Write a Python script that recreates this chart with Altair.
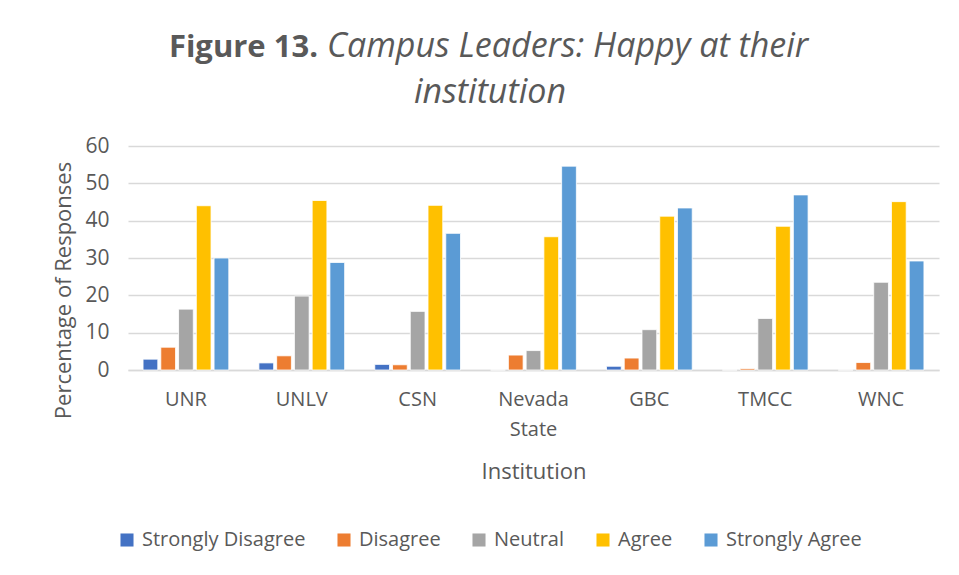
import altair as alt
import pandas as pd

institutions = ["UNR", "UNLV", "CSN", "Nevada State", "GBC", "TMCC", "WNC"]
responses = ["Strongly Disagree", "Disagree", "Neutral", "Agree", "Strongly Agree"]
strongly_disagree = [2.9, 1.9, 1.5, 0.0, 1.0, 0.0, 0.0]
disagree = [6.1, 3.8, 1.4, 4.0, 3.2, 0.4, 2.0]
neutral = [16.3, 19.8, 15.7, 5.2, 10.8, 13.8, 23.5]
agree = [44.0, 45.4, 44.1, 35.7, 41.2, 38.5, 45.1]
strongly_agree = [30.0, 28.8, 36.6, 54.6, 43.4, 46.9, 29.2]
colors = ["#4472C4", "#ED7D31", "#A5A5A5", "#FFC000", "#5B9BD5"]

series = [strongly_disagree, disagree, neutral, agree, strongly_agree]
rows = []
for resp, vals in zip(responses, series):
    for inst, v in zip(institutions, vals):
        rows.append({"Institution": inst, "Response": resp, "Value": v})
df = pd.DataFrame(rows)

FONT = "Open Sans"
GREY = "#595959"

bars = alt.Chart(df).mark_bar(stroke="white", strokeWidth=0.8).encode(
    x=alt.X(
        "Institution:N",
        sort=institutions,
        scale=alt.Scale(paddingInner=0.26, paddingOuter=0.13),
        axis=alt.Axis(
            title="Institution",
            labelAngle=0,
            labelExpr="split(datum.label, ' ')",
            labelLineHeight=30,
            labelPadding=19,
            labelFontSize=20,
            labelColor=GREY,
            labelFont=FONT,
            ticks=False,
            domainColor="#D9D9D9",
            domainWidth=1.5,
            titleFontSize=22,
            titleFontWeight="normal",
            titleColor=GREY,
            titleFont=FONT,
            titlePadding=22,
        ),
    ),
    xOffset=alt.XOffset("Response:N", sort=responses, scale=alt.Scale(paddingInner=0.17)),
    y=alt.Y(
        "Value:Q",
        scale=alt.Scale(domain=[0, 60]),
        axis=alt.Axis(
            title="Percentage of Responses",
            values=[0, 10, 20, 30, 40, 50, 60],
            domain=False,
            ticks=False,
            gridColor="#D9D9D9",
            gridWidth=1.5,
            labelFontSize=21,
            labelColor=GREY,
            labelFont=FONT,
            labelPadding=19,
            titleFontSize=22,
            titleFontWeight="normal",
            titleColor=GREY,
            titleFont=FONT,
            titlePadding=9,
            titleY=144,
        ),
    ),
    color=alt.Color(
        "Response:N",
        sort=responses,
        scale=alt.Scale(domain=responses, range=colors),
        legend=alt.Legend(
            title=None,
            orient="none",
            direction="horizontal",
            legendX=-11,
            legendY=384,
            symbolType="square",
            symbolSize=170,
            symbolStrokeWidth=0,
            labelFontSize=20,
            labelColor=GREY,
            labelFont=FONT,
            labelOffset=5,
            labelLimit=400,
            columnPadding=28,
        ),
    ),
)

title_bold = alt.Chart(pd.DataFrame({"t": ["Figure 13."]})).mark_text(
    align="right", baseline="alphabetic", fontSize=31, fontWeight="bold", font=FONT, color=GREY
).encode(text="t:N", x=alt.value(190), y=alt.value(-89))

title_italic = alt.Chart(pd.DataFrame({"t": ["Campus Leaders: Happy at their"]})).mark_text(
    align="left", baseline="alphabetic", fontSize=34, fontStyle="italic", font=FONT, color=GREY
).encode(text="t:N", x=alt.value(199), y=alt.value(-89))

title_line2 = alt.Chart(pd.DataFrame({"t": ["institution"]})).mark_text(
    align="center", baseline="alphabetic", fontSize=34, fontStyle="italic", font=FONT, color=GREY
).encode(text="t:N", x=alt.value(362), y=alt.value(-43))

chart = alt.layer(bars, title_bold, title_italic, title_line2).properties(
    width=811,
    height=224,
    autosize=alt.AutoSizeParams(type="none"),
    padding={"left": 120, "top": 138, "right": 12, "bottom": 197},
    background="white",
).configure_view(stroke=None)

chart.save("out.html", embed_options={"renderer": "svg", "actions": False})
